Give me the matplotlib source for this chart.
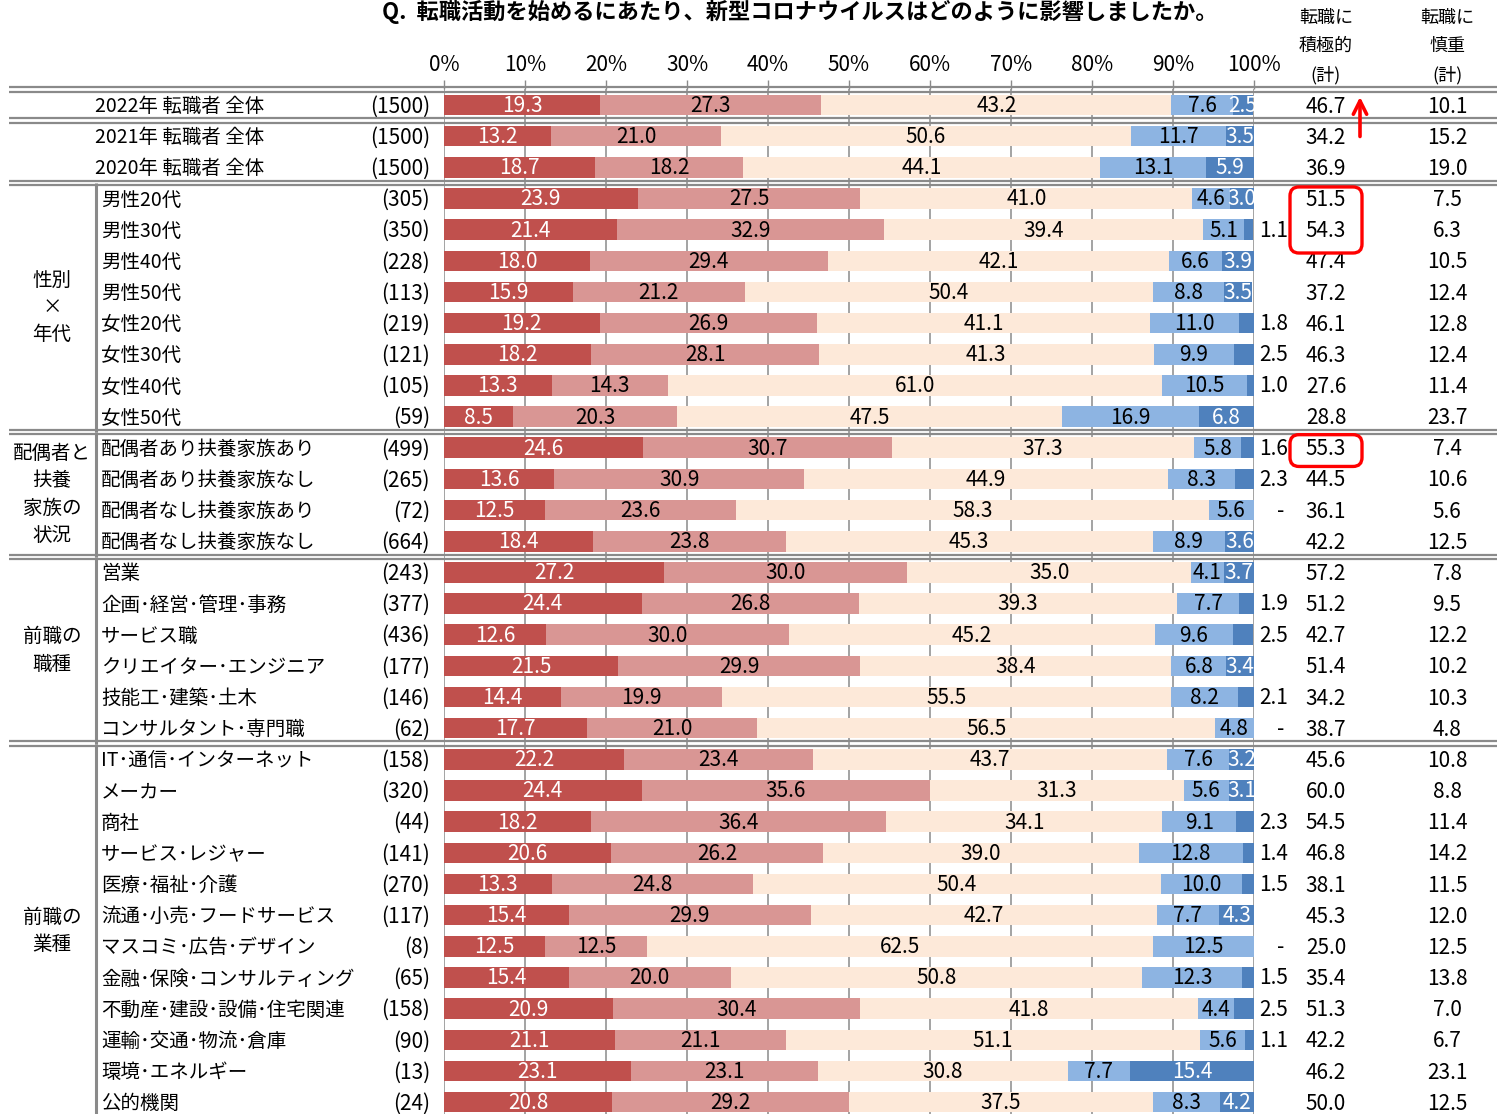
import matplotlib
matplotlib.use("Agg")
import matplotlib.pyplot as plt
import matplotlib.transforms as mtransforms
from matplotlib.patches import FancyBboxPatch, FancyArrowPatch

plt.rcParams['font.family'] = ['Noto Sans CJK JP', 'DejaVu Sans']

# ---------------- data ----------------
title = "Q.  転職活動を始めるにあたり、新型コロナウイルスはどのように影響しましたか。"
row_labels = ["2022年 転職者 全体", "2021年 転職者 全体", "2020年 転職者 全体",
              "男性20代", "男性30代", "男性40代", "男性50代",
              "女性20代", "女性30代", "女性40代", "女性50代",
              "配偶者あり扶養家族あり", "配偶者あり扶養家族なし",
              "配偶者なし扶養家族あり", "配偶者なし扶養家族なし",
              "営業", "企画･経営･管理･事務", "サービス職", "クリエイター･エンジニア",
              "技能工･建築･土木", "コンサルタント･専門職",
              "IT･通信･インターネット", "メーカー", "商社", "サービス･レジャー",
              "医療･福祉･介護", "流通･小売･フードサービス", "マスコミ･広告･デザイン",
              "金融･保険･コンサルティング", "不動産･建設･設備･住宅関連",
              "運輸･交通･物流･倉庫", "環境･エネルギー", "公的機関"]
n_sizes = [1500, 1500, 1500, 305, 350, 228, 113, 219, 121, 105, 59,
           499, 265, 72, 664, 243, 377, 436, 177, 146, 62,
           158, 320, 44, 141, 270, 117, 8, 65, 158, 90, 13, 24]
very_active = [19.3, 13.2, 18.7, 23.9, 21.4, 18.0, 15.9, 19.2, 18.2, 13.3, 8.5,
               24.6, 13.6, 12.5, 18.4, 27.2, 24.4, 12.6, 21.5, 14.4, 17.7,
               22.2, 24.4, 18.2, 20.6, 13.3, 15.4, 12.5, 15.4, 20.9, 21.1, 23.1, 20.8]
somewhat_active = [27.3, 21.0, 18.2, 27.5, 32.9, 29.4, 21.2, 26.9, 28.1, 14.3, 20.3,
                   30.7, 30.9, 23.6, 23.8, 30.0, 26.8, 30.0, 29.9, 19.9, 21.0,
                   23.4, 35.6, 36.4, 26.2, 24.8, 29.9, 12.5, 20.0, 30.4, 21.1, 23.1, 29.2]
no_effect = [43.2, 50.6, 44.1, 41.0, 39.4, 42.1, 50.4, 41.1, 41.3, 61.0, 47.5,
             37.3, 44.9, 58.3, 45.3, 35.0, 39.3, 45.2, 38.4, 55.5, 56.5,
             43.7, 31.3, 34.1, 39.0, 50.4, 42.7, 62.5, 50.8, 41.8, 51.1, 30.8, 37.5]
somewhat_cautious = [7.6, 11.7, 13.1, 4.6, 5.1, 6.6, 8.8, 11.0, 9.9, 10.5, 16.9,
                     5.8, 8.3, 5.6, 8.9, 4.1, 7.7, 9.6, 6.8, 8.2, 4.8,
                     7.6, 5.6, 9.1, 12.8, 10.0, 7.7, 12.5, 12.3, 4.4, 5.6, 7.7, 8.3]
very_cautious = [2.5, 3.5, 5.9, 3.0, 1.1, 3.9, 3.5, 1.8, 2.5, 1.0, 6.8,
                 1.6, 2.3, 0.0, 3.6, 3.7, 1.9, 2.5, 3.4, 2.1, 0.0,
                 3.2, 3.1, 2.3, 1.4, 1.5, 4.3, 0.0, 1.5, 2.5, 1.1, 15.4, 4.2]
active_total = [46.7, 34.2, 36.9, 51.5, 54.3, 47.4, 37.2, 46.1, 46.3, 27.6, 28.8,
                55.3, 44.5, 36.1, 42.2, 57.2, 51.2, 42.7, 51.4, 34.2, 38.7,
                45.6, 60.0, 54.5, 46.8, 38.1, 45.3, 25.0, 35.4, 51.3, 42.2, 46.2, 50.0]
cautious_total = [10.1, 15.2, 19.0, 7.5, 6.3, 10.5, 12.4, 12.8, 12.4, 11.4, 23.7,
                  7.4, 10.6, 5.6, 12.5, 7.8, 9.5, 12.2, 10.2, 10.3, 4.8,
                  10.8, 8.8, 11.4, 14.2, 11.5, 12.0, 12.5, 13.8, 7.0, 6.7, 23.1, 12.5]
very_cautious_label_outside = [False, False, False, False, True, False, False, True, True, True, False,
                               True, True, True, False, False, True, True, False, True, True,
                               False, False, True, True, True, False, True, True, True, True, False, False]
group_names = [["性別", "×", "年代"], ["配偶者と", "扶養", "家族の", "状況"],
               ["前職の", "職種"], ["前職の", "業種"]]
group_first = [3, 11, 15, 21]
group_last = [10, 14, 20, 32]
separators_after = [-1, 0, 2, 10, 14, 20]
x_ticks = [0, 10, 20, 30, 40, 50, 60, 70, 80, 90, 100]
header_active = ["転職に", "積極的", "(計)"]
header_cautious = ["転職に", "慎重", "(計)"]

# ---------------- style / layout ----------------
seg_colors = ['#C0504D', '#D99694', '#FDE9D9', '#8DB4E2', '#4F81BD']
seg_text = ['white', 'black', 'black', 'black', 'white']
W, H = 1497, 1114
PLOT_L, PLOT_R = 444, 1254
ROW0_Y, PITCH = 105, 31.16
n_rows = len(row_labels)
top_px = ROW0_Y - PITCH / 2
bot_px = ROW0_Y + PITCH * (n_rows - 0.5)

fig = plt.figure(figsize=(W / 100, H / 100), dpi=100)
fig.patch.set_facecolor('white')
ax = fig.add_axes([PLOT_L / W, 1 - bot_px / H, (PLOT_R - PLOT_L) / W, (bot_px - top_px) / H])
ax.set_xlim(0, 100)
ax.set_ylim(n_rows - 0.5, -0.5)
for s in ax.spines.values():
    s.set_visible(False)
ax.set_yticks([])
ax.set_xticks(x_ticks)
ax.set_xticklabels([f"{t}%" for t in x_ticks])
ax.xaxis.set_ticks_position('top')
ax.tick_params(axis='x', top=True, bottom=False, labeltop=True, labelbottom=False,
               length=6.5, width=1.0, color='#8a8a8a', pad=3, labelsize=15)
ax.grid(axis='x', color='#8a8a8a', linewidth=1.1)
ax.set_axisbelow(True)

series = [very_active, somewhat_active, no_effect, somewhat_cautious, very_cautious]
ys = list(range(n_rows))
lefts = [0.0] * n_rows
for k, vals in enumerate(series):
    ax.barh(ys, vals, left=lefts, height=0.66, color=seg_colors[k], edgecolor='none', zorder=2)
    for i in range(n_rows):
        v = vals[i]
        if k == 4 and (very_cautious_label_outside[i] or v == 0):
            continue
        if v > 0:
            ax.text(lefts[i] + v / 2, i + 0.03, f"{v:.1f}", ha='center', va='center',
                    fontsize=15, color=seg_text[k], zorder=3)
    lefts = [l + v for l, v in zip(lefts, vals)]

tr = mtransforms.blended_transform_factory(fig.transFigure, ax.transData)
fx = lambda p: p / W

for i in range(n_rows):
    ax.text(fx(95 if i < 3 else 101), i + 0.05, row_labels[i], transform=tr,
            ha='left', va='center', fontsize=14)
    ax.text(fx(430), i + 0.05, f"({n_sizes[i]})", transform=tr,
            ha='right', va='center', fontsize=15)
    if very_cautious_label_outside[i]:
        if very_cautious[i] == 0:
            ax.text(fx(1281), i + 0.03, "-", transform=tr, ha='center', va='center', fontsize=15)
        else:
            ax.text(fx(1274), i + 0.03, f"{very_cautious[i]:.1f}", transform=tr,
                    ha='center', va='center', fontsize=15)
    ax.text(fx(1326), i + 0.05, f"{active_total[i]:.1f}", transform=tr,
            ha='center', va='center', fontsize=15)
    ax.text(fx(1447), i + 0.05, f"{cautious_total[i]:.1f}", transform=tr,
            ha='center', va='center', fontsize=15)

# group labels
for names, a, b in zip(group_names, group_first, group_last):
    mid = (a + b) / 2
    n = len(names)
    for j, nm in enumerate(names):
        ax.text(fx(52), mid + (j - (n - 1) / 2) * 0.88, nm, transform=tr,
                ha='center', va='center', fontsize=14)
    ax.plot([fx(96), fx(96)], [a - 0.5, b + 0.5], transform=tr, color='#8a8a8a',
            lw=2.2, clip_on=False, solid_capstyle='butt')

# double separators
for s in separators_after:
    yb = s + 0.5
    for off in (-2.3, 2.3):
        t2 = mtransforms.offset_copy(tr, fig=fig, y=off * 0.72, units='points')
        ax.plot([fx(9), 1.0], [yb, yb], transform=t2, color='#8a8a8a', lw=1.6,
                clip_on=False, solid_capstyle='butt', zorder=5)

# headers
for j, (ta, tc) in enumerate(zip(header_active, header_cautious)):
    yy = 1 - [18, 46, 75][j] / H
    fig.text(fx(1326), yy, ta, ha='center', va='center', fontsize=13)
    fig.text(fx(1447), yy, tc, ha='center', va='center', fontsize=13)

fig.text(fx(800), 1 - 12 / H, title, ha='center', va='center', fontsize=16, fontweight='bold')

# red annotations
pix = mtransforms.IdentityTransform()
ypx = lambda r: H - (ROW0_Y + PITCH * r)
for r0, r1 in [(2.63, 4.75), (10.58, 11.6)]:
    box = FancyBboxPatch((1290, ypx(r1)), 72, ypx(r0) - ypx(r1),
                         boxstyle="round,pad=0,rounding_size=9", fill=False,
                         edgecolor='#FF0000', linewidth=2.4, transform=pix)
    fig.add_artist(box)
arrow = FancyArrowPatch((1360, ypx(1.1)), (1360, ypx(-0.35)), arrowstyle='->',
                        mutation_scale=24, color='#FF0000', lw=2.6, transform=pix)
fig.add_artist(arrow)

fig.savefig("out.png", dpi=100)
